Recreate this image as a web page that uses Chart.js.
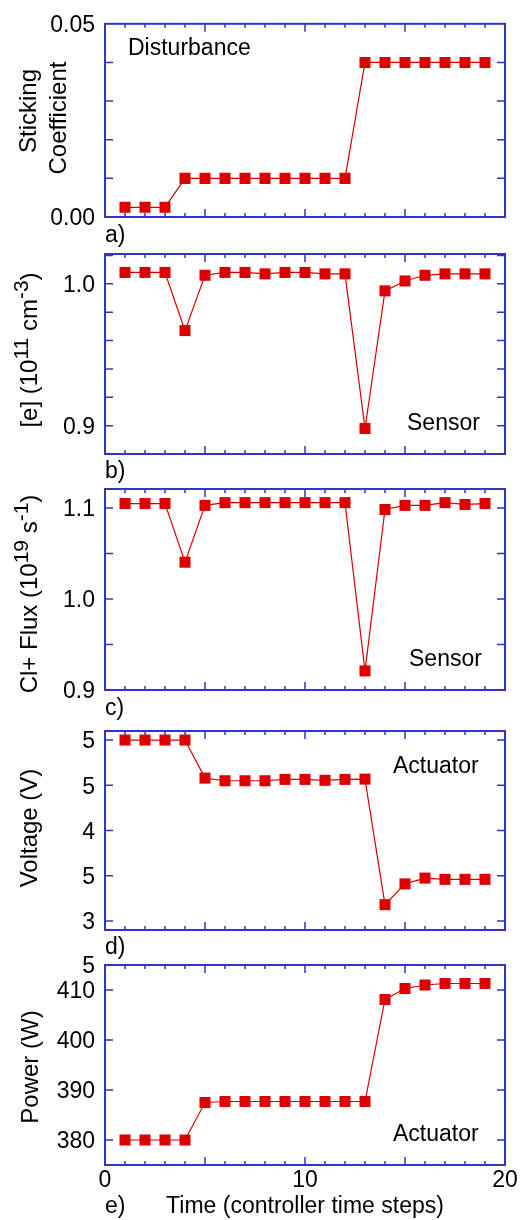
<!DOCTYPE html>
<html>
<head>
<meta charset="utf-8">
<script src="https://cdn.jsdelivr.net/npm/chart.js@4.4.0/dist/chart.umd.min.js"></script>
<style>
  html, body { margin: 0; padding: 0; background: #fff; }
  #wrap { position: relative; width: 524px; height: 1220px; }
  #wrap canvas { position: absolute; left: 0; top: 0; }
</style>
</head>
<body>
<div id="wrap">
  <canvas id="panel-a" width="524" height="1220"></canvas>
  <canvas id="panel-b" width="524" height="1220"></canvas>
  <canvas id="panel-c" width="524" height="1220"></canvas>
  <canvas id="panel-d" width="524" height="1220"></canvas>
  <canvas id="panel-e" width="524" height="1220"></canvas>
</div>
<script>
// controller time steps
const timeSteps = [1, 2, 3, 4, 5, 6, 7, 8, 9, 10, 11, 12, 13, 14, 15, 16, 17, 18, 19];

// a) disturbance
const sticking = [0.0025, 0.0025, 0.0025, 0.01, 0.01, 0.01, 0.01, 0.01, 0.01, 0.01, 0.01, 0.01,
                  0.04, 0.04, 0.04, 0.04, 0.04, 0.04, 0.04];
// b) sensor [e]
const density = [1.008, 1.008, 1.008, 0.967, 1.006, 1.008, 1.008, 1.007, 1.008, 1.008, 1.007, 1.007,
                 0.898, 0.995, 1.002, 1.006, 1.007, 1.007, 1.007];
// c) sensor Cl+ flux
const clFlux = [1.105, 1.105, 1.105, 1.0405, 1.103, 1.106, 1.106, 1.106, 1.106, 1.106, 1.106, 1.106,
                0.921, 1.0985, 1.103, 1.103, 1.106, 1.104, 1.105];
// d) actuator voltage
const voltage = [5.0, 5.0, 5.0, 5.0, 4.579, 4.55, 4.55, 4.55, 4.565, 4.565, 4.555, 4.565,
                 4.568, 3.18, 3.41, 3.474, 3.46, 3.46, 3.46];
// e) actuator power
const power = [380, 380, 380, 380, 387.5, 387.7, 387.7, 387.7, 387.7, 387.7, 387.7, 387.7,
               387.7, 408.1, 410.3, 411, 411.3, 411.3, 411.3];

// tick labels (as printed in the figure)
const stickTickValues = [0, 0.05];
const stickTickLabels = ['0.00', '0.05'];
const densityTickValues = [0.9, 1.0];
const densityTickLabels = ['0.9', '1.0'];
const fluxTickValues = [0.9, 1.0, 1.1];
const fluxTickLabels = ['0.9', '1.0', '1.1'];
const voltTickValues = [3, 3.5, 4, 4.5, 5];
const voltTickLabels = ['3', '5', '4', '5', '5'];
const powerTickValues = [380, 390, 400, 410, 415];
const powerTickLabels = ['380', '390', '400', '410', '5'];
const timeTickValues = [0, 10, 20];
const timeTickLabels = ['0', '10', '20'];

const FONT = '"Liberation Sans", Arial, Helvetica, sans-serif';
const BLUE = '#3333cc';
const RED = '#dd0000';
Chart.defaults.font.family = FONT;
Chart.defaults.font.size = 23;
Chart.defaults.color = '#000';

function pickLabels(values, labels) {
  return v => {
    const i = values.findIndex(t => Math.abs(t - v) < 1e-6);
    return i < 0 ? '' : labels[i];
  };
}

// rotated axis title, with raised parts for exponents
function drawRich(ctx, segs, baseX, midY) {
  ctx.save();
  ctx.translate(baseX, midY);
  ctx.rotate(-Math.PI / 2);
  ctx.textBaseline = 'alphabetic';
  ctx.textAlign = 'left';
  let w = 0;
  segs.forEach(s => {
    ctx.font = (s.sup ? 21 : 24) + 'px ' + FONT;
    w += ctx.measureText(s.t).width;
  });
  let pos = -w / 2;
  segs.forEach(s => {
    ctx.font = (s.sup ? 21 : 24) + 'px ' + FONT;
    ctx.fillText(s.t, pos, s.sup ? -9 : 0);
    pos += ctx.measureText(s.t).width;
  });
  ctx.restore();
}

const deco = {
  id: 'deco',
  beforeDatasetsDraw(chart) {
    const {ctx, chartArea: a, scales: {x, y}} = chart;
    ctx.save();
    ctx.strokeStyle = BLUE;
    ctx.lineWidth = 1.5;
    ctx.beginPath();
    x.ticks.forEach(t => {
      if (t.value <= x.min || t.value >= x.max) return;
      const px = x.getPixelForValue(t.value);
      const len = t.value % 5 === 0 ? 8 : 4;
      ctx.moveTo(px, a.bottom); ctx.lineTo(px, a.bottom - len);
      ctx.moveTo(px, a.top); ctx.lineTo(px, a.top + len);
    });
    y.ticks.forEach(t => {
      if (t.value <= y.min + 1e-9 || t.value >= y.max - 1e-9) return;
      const py = y.getPixelForValue(t.value);
      ctx.moveTo(a.left, py); ctx.lineTo(a.left + 8, py);
      ctx.moveTo(a.right, py); ctx.lineTo(a.right - 8, py);
    });
    ctx.stroke();
    ctx.restore();
  },
  afterDraw(chart, args, opts) {
    const {ctx, chartArea: a} = chart;
    ctx.save();
    ctx.strokeStyle = BLUE;
    ctx.lineWidth = 2;
    ctx.strokeRect(a.left, a.top, a.right - a.left, a.bottom - a.top);
    ctx.fillStyle = '#000';
    ctx.font = '23px ' + FONT;
    ctx.textAlign = 'left';
    ctx.textBaseline = 'alphabetic';
    (opts.notes || []).forEach(n => ctx.fillText(n.text, n.x, n.y));
    (opts.titles || []).forEach(t => drawRich(ctx, t.segs, t.x, t.y));
    ctx.restore();
  }
};

function makePanel(id, p) {
  const last = !!p.last;
  return new Chart(document.getElementById(id), {
    type: 'line',
    data: {
      datasets: [{
        data: timeSteps.map((t, i) => ({x: t, y: p.values[i]})),
        borderColor: RED,
        borderWidth: 1.2,
        backgroundColor: RED,
        pointStyle: 'rect',
        pointRadius: 7.8,
        pointBorderWidth: 0,
        fill: false,
        tension: 0
      }]
    },
    options: {
      responsive: false,
      animation: false,
      layout: {padding: {top: p.top, left: 0, right: 19, bottom: 0}},
      plugins: {
        legend: {display: false},
        tooltip: {enabled: false},
        deco: {notes: p.notes, titles: p.titles}
      },
      scales: {
        x: {
          type: 'linear', min: 0, max: 20,
          grid: {display: false, drawTicks: false},
          border: {display: false},
          ticks: {
            display: last, stepSize: 1, autoSkip: false, maxRotation: 0, padding: 2,
            callback: pickLabels(timeTickValues, timeTickLabels)
          },
          title: {display: last, text: 'Time (controller time steps)', padding: {top: 0, bottom: 0}},
          afterFit: s => { s.height = 1220 - p.bottom; }
        },
        y: {
          type: 'linear', min: p.min, max: p.max,
          grid: {display: false, drawTicks: false},
          border: {display: false},
          ticks: {
            stepSize: p.step, includeBounds: !!p.bounds, autoSkip: false, padding: 10, labelOffset: 2,
            callback: pickLabels(p.tickValues, p.tickLabels)
          },
          afterBuildTicks: s => {
            if (p.fixedTicks) s.ticks = p.fixedTicks.map(v => ({value: v}));
          },
          afterFit: s => { s.width = 105; }
        }
      }
    },
    plugins: [deco]
  });
}

makePanel('panel-a', {
  top: 17, bottom: 217, min: 0, max: 0.05, step: 0.01, bounds: true,
  values: sticking, tickValues: stickTickValues, tickLabels: stickTickLabels,
  notes: [{text: 'Disturbance', x: 128, y: 55}, {text: 'a)', x: 105, y: 242}],
  titles: [{segs: [{t: 'Sticking'}], x: 36, y: 111}, {segs: [{t: 'Coefficient'}], x: 66, y: 118}]
});

makePanel('panel-b', {
  top: 254, bottom: 454, min: 0.88, max: 1.021, step: 0.02,
  values: density, tickValues: densityTickValues, tickLabels: densityTickLabels,
  notes: [{text: 'Sensor', x: 407, y: 430}, {text: 'b)', x: 105, y: 478}],
  titles: [{segs: [{t: '[e] (10'}, {t: '11', sup: true}, {t: ' cm'}, {t: '-3', sup: true}, {t: ')'}], x: 37, y: 350}]
});

makePanel('panel-c', {
  top: 489, bottom: 690, min: 0.9, max: 1.121, step: 0.05,
  values: clFlux, tickValues: fluxTickValues, tickLabels: fluxTickLabels,
  notes: [{text: 'Sensor', x: 409, y: 666}, {text: 'c)', x: 105, y: 715}],
  titles: [{segs: [{t: 'Cl+ Flux (10'}, {t: '19', sup: true}, {t: ' s'}, {t: '-1', sup: true}, {t: ')'}], x: 37, y: 594}]
});

makePanel('panel-d', {
  top: 731, bottom: 930, min: 2.9, max: 5.1, step: 0.5,
  values: voltage, tickValues: voltTickValues, tickLabels: voltTickLabels,
  notes: [{text: 'Actuator', x: 393, y: 773}, {text: 'd)', x: 105, y: 954}],
  titles: [{segs: [{t: 'Voltage (V)'}], x: 37, y: 828}]
});

makePanel('panel-e', {
  top: 965, bottom: 1165, min: 375, max: 415, step: 10, last: true,
  fixedTicks: powerTickValues,
  values: power, tickValues: powerTickValues, tickLabels: powerTickLabels,
  notes: [{text: 'Actuator', x: 393, y: 1141}, {text: 'e)', x: 105, y: 1213}],
  titles: [{segs: [{t: 'Power (W)'}], x: 38, y: 1067}]
});
</script>
</body>
</html>
